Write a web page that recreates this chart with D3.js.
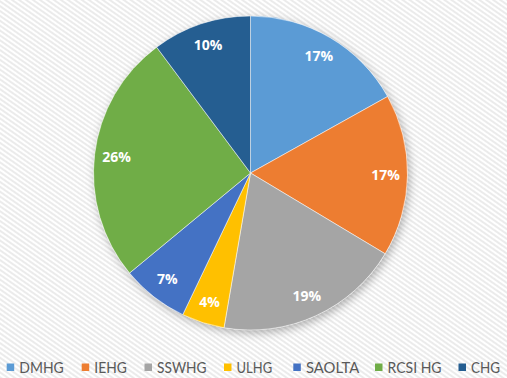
<!DOCTYPE html>
<html><head><meta charset="utf-8">
<script src="https://cdn.jsdelivr.net/npm/d3@7"></script>
<style>html,body{margin:0;padding:0;background:#fff;}svg{display:block;}</style>
</head><body>
<script>
const categories = ["DMHG","IEHG","SSWHG","ULHG","SAOLTA","RCSI HG","CHG"];
const values = [16.9, 16.7, 19.1, 4.4, 6.9, 25.8, 10.2];
const colors = ["#5B9BD5","#ED7D31","#A5A5A5","#FFC000","#4472C4","#70AD47","#255E91"];

const W = 507, H = 378;
const svg = d3.select("body").append("svg").attr("width", W).attr("height", H);
const defs = svg.append("defs");
const pat = defs.append("pattern").attr("id","stripes").attr("patternUnits","userSpaceOnUse")
  .attr("width",4).attr("height",4).attr("patternTransform","rotate(35)");
pat.append("rect").attr("width",4).attr("height",4).attr("fill","#ffffff");
pat.append("rect").attr("width",4).attr("height",2).attr("fill","#ebebeb");
const f = defs.append("filter").attr("id","shadow").attr("x","-20%").attr("y","-20%").attr("width","140%").attr("height","140%");
f.append("feDropShadow").attr("dx",2).attr("dy",3).attr("stdDeviation",5).attr("flood-color","#000").attr("flood-opacity",0.3);

svg.append("rect").attr("width",W).attr("height",H).attr("fill","url(#stripes)");

const cx = 250.5, cy = 173, R = 157;
const total = d3.sum(values);
const pie = d3.pie().sort(null).value(d => d)(values);
const arc = d3.arc().innerRadius(0).outerRadius(R);
const labelArc = d3.arc().innerRadius(113).outerRadius(R);
const g = svg.append("g").attr("transform",`translate(${cx},${cy})`);
g.append("circle").attr("r",R).attr("fill","#fff").attr("filter","url(#shadow)");
g.selectAll("path.slice").data(pie).join("path").attr("class","slice")
  .attr("d",arc).attr("fill",(d,i)=>colors[i]).attr("stroke","#fff").attr("stroke-width",0.5);
g.selectAll("text.lbl").data(pie).join("text").attr("class","lbl")
  .attr("transform",d=>`translate(${labelArc.centroid(d)})`)
  .attr("text-anchor","middle").attr("dy","0.35em")
  .attr("font-family","'Open Sans', 'Liberation Sans', Arial, sans-serif")
  .attr("font-weight","bold").attr("font-size",14).attr("fill","#fff")
  .text(d => Math.round(d.value/total*100) + "%");

// legend
const legendX = [6.7, 81.7, 144.5, 224, 293.3, 375, 458.5];
const legendW = [44.5, 32.5, 49.5, 35.5, 53.5, 54, 29];
const lg = svg.append("g").attr("font-family","Lato, 'Liberation Sans', Arial, sans-serif").attr("font-size",15.5).attr("fill","#595959");
categories.forEach((c,i)=>{
  const it = lg.append("g").attr("transform",`translate(${legendX[i]},0)`);
  it.append("rect").attr("x",0).attr("y",363.5).attr("width",7.5).attr("height",7.5).attr("fill",colors[i]);
  it.append("text").attr("x",12.6).attr("y",373.3).attr("textLength",legendW[i]).attr("lengthAdjust","spacingAndGlyphs").text(c);
});
</script>
</body></html>
